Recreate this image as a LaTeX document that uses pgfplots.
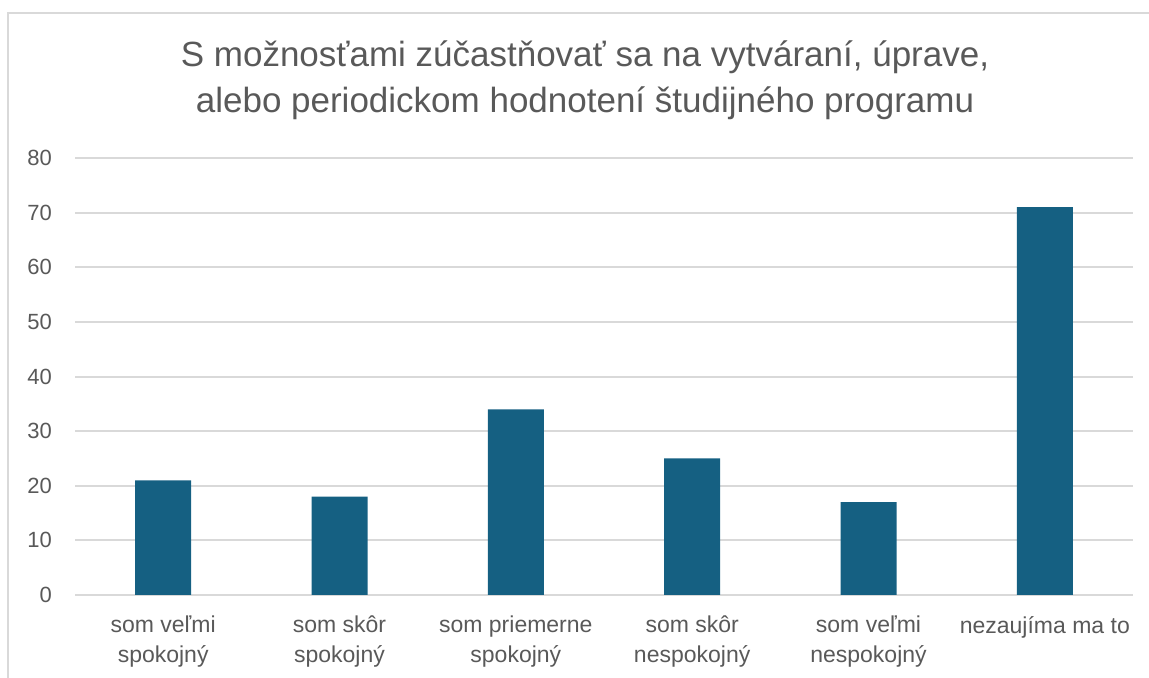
\documentclass[border=0pt]{standalone}
\usepackage{pgfplots}
\pgfplotsset{compat=1.18}
\usepackage{fontspec}
\setmainfont{Liberation Sans}
\definecolor{barc}{HTML}{156082}
\definecolor{gridc}{HTML}{D9D9D9}
\definecolor{txt}{HTML}{595959}
\begin{document}
\begin{tikzpicture}
\useasboundingbox (-37.5pt,-41.5pt) rectangle (537pt,297.5pt);
\draw[gridc, line width=1pt] (-33.5pt,-41.5pt) -- (-33.5pt,291pt) -- (537pt,291pt);
\begin{axis}[
  at={(0,0)}, anchor=south west,
  scale only axis, width=529pt, height=218.5pt,
  xmin=-0.5, xmax=5.5, ymin=0, ymax=80,
  ytick={0,10,...,80},
  xtick={0,1,2,3,4,5},
  xticklabels={{som veľmi\\spokojný},{som skôr\\spokojný},{som priemerne\\spokojný},{som skôr\\nespokojný},{som veľmi\\nespokojný},{nezaujíma ma to}},
  xticklabel style={align=center, font=\fontsize{11.5}{15}\selectfont, text=txt, yshift=-7pt},
  yticklabel style={font=\fontsize{11}{13}\selectfont, text=txt, anchor=east, xshift=-8pt},
  /pgf/number format/assume math mode=true,
  major tick length=0pt,
  ymajorgrids, grid style={gridc, line width=1pt},
  axis x line*=bottom, axis y line*=left,
  x axis line style={gridc, line width=1pt, -},
  y axis line style={draw=none},
  ybar, bar width=28pt,
  clip=false,
]
\addplot[fill=barc, draw=none] coordinates {(0,21) (1,18) (2,34) (3,25) (4,17) (5,71)};
\end{axis}
\node[align=center, text=txt, font=\fontsize{17.5}{23}\selectfont, anchor=base] at (255pt,241pt) {S možnosťami zúčastňovať sa na vytváraní, úprave,\\alebo periodickom hodnotení študijného programu};
\end{tikzpicture}
\end{document}
